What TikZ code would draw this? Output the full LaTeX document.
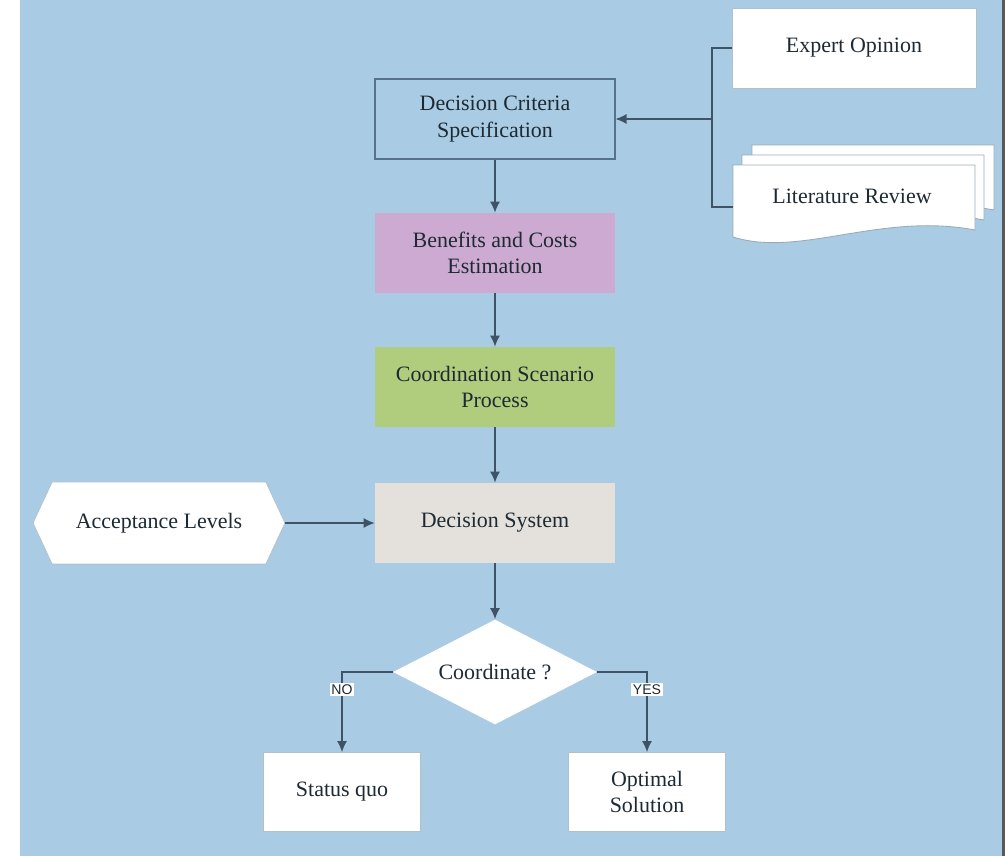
\documentclass[tikz,border=0pt]{standalone}
\usepackage{fontspec}
\setmainfont{Liberation Serif}
\setsansfont{Liberation Sans}
\usetikzlibrary{shapes.geometric,shapes.symbols,arrows.meta}
\definecolor{skyback}{HTML}{A9CBE3}
\definecolor{edgeblue}{HTML}{56728A}
\definecolor{linegray}{HTML}{3E5466}
\definecolor{mauve}{HTML}{CDAAD2}
\definecolor{leaf}{HTML}{B0CC7D}
\definecolor{stone}{HTML}{E4E1DC}
\definecolor{inkdark}{HTML}{1E2A33}
\tikzset{
  box/.style={rectangle, minimum width=4.8cm, minimum height=1.6cm, align=center,
    font=\fontsize{12.5}{15}\selectfont, text=inkdark},
  whitebox/.style={box, fill=white, draw=edgeblue!45, line width=0.5pt},
  paper/.style={fill=white, draw=edgeblue!60, line width=0.5pt},
  line/.style={draw=linegray, line width=0.8pt},
  arrow/.style={line, -{Latex[length=2.2mm,width=2mm]}},
  answer/.style={fill=white, inner sep=1pt, text=inkdark, font=\sffamily\fontsize{8}{9}\selectfont}
}
\begin{document}
\begin{tikzpicture}[x=0.02cm,y=-0.02cm]
  \useasboundingbox (0,0) rectangle (1005,856);
  \fill[white] (0,0) rectangle (20,856);
  \fill[skyback] (20,0) rectangle (1002,856);
  \fill[black!65] (1002,0) rectangle (1005,856);
  % sources
  \node[whitebox, minimum width=4.88cm] (expert) at (854,48) {Expert Opinion};
  \foreach \dx/\dy in {19/-20, 9/-10, 0/0}
    \draw[paper, shift={(\dx,\dy)}] (733,165) -- (975,165) -- (975,230)
      .. controls (880,212) and (800,258) .. (733,237) -- cycle;
  \node[box] (lit) at (852,196) {Literature Review};
  \coordinate (litedge) at (733,207);
  \coordinate (join) at (712,119);
  % main column
  \node[box, draw=edgeblue, line width=0.6pt] (crit) at (495,119) {Decision Criteria\\Specification};
  \node[box, fill=mauve] (bene) at (495,253) {Benefits and Costs\\Estimation};
  \node[box, fill=leaf] (coord) at (495,387) {Coordination Scenario\\Process};
  \node[box, fill=stone] (dsys) at (495,523) {Decision System};
  \node[signal, signal to=west and east, signal pointer angle=130, fill=white, draw=edgeblue!45,
    minimum width=5.04cm, minimum height=1.64cm, font=\fontsize{12.5}{15}\selectfont, text=inkdark]
    (accept) at (159,523) {Acceptance Levels};
  \node[diamond, aspect=2, fill=white, inner sep=0pt, minimum width=4.08cm, minimum height=2.1cm,
    font=\fontsize{12.5}{15}\selectfont, text=inkdark] (decide) at (495,672) {Coordinate ?};
  \node[whitebox, minimum width=3.14cm, minimum height=1.58cm] (quo) at (342,792) {Status quo};
  \node[whitebox, minimum width=3.14cm, minimum height=1.58cm] (opt) at (647,792) {Optimal\\Solution};
  % connectors
  \draw[line] (expert.west) -| (join) |- (litedge);
  \draw[arrow] (join) -- (crit.east);
  \draw[arrow] (crit) -- (bene);
  \draw[arrow] (bene) -- (coord);
  \draw[arrow] (coord) -- (dsys);
  \draw[arrow] (accept.east) -- (dsys.west);
  \draw[arrow] (dsys) -- (decide);
  \draw[arrow] (decide.west) -| node[answer, pos=0.61] {NO} (quo.north);
  \draw[arrow] (decide.east) -| node[answer, pos=0.61] {YES} (opt.north);
\end{tikzpicture}
\end{document}
